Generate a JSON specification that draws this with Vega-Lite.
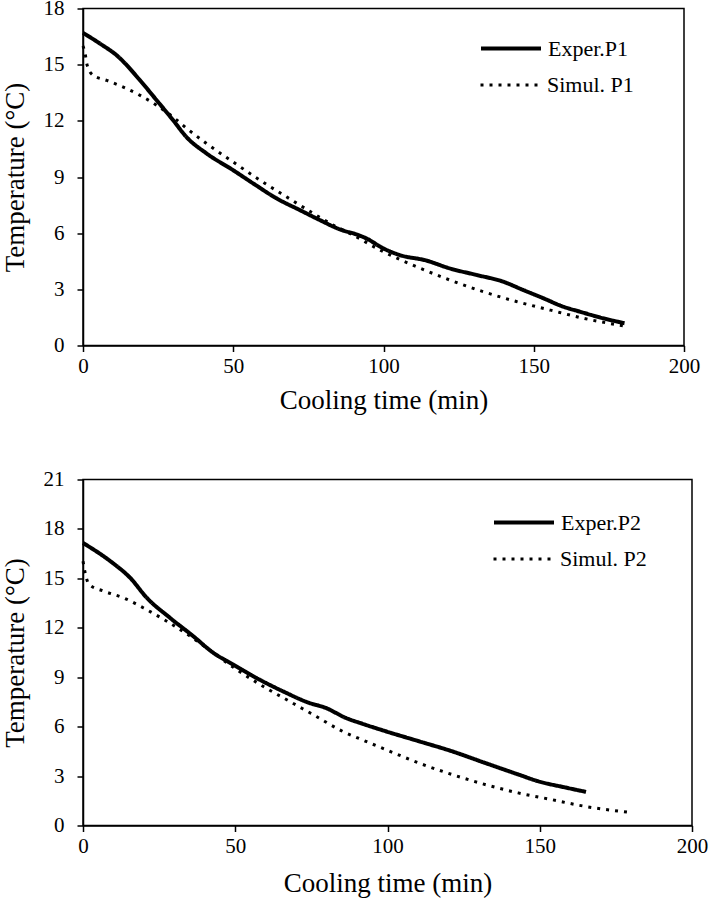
{
  "$schema": "https://vega.github.io/schema/vega-lite/v6.json",
  "padding": {"left": 0, "top": -3.5, "right": 0, "bottom": 0},
  "background": "white",
  "config": {
    "font": "Liberation Serif",
    "view": {"stroke": "black", "strokeWidth": 1.5},
    "axis": {
      "domainColor": "black", "domainWidth": 1.5, "tickColor": "black", "tickWidth": 1.5, "tickSize": 6,
      "labelFont": "Liberation Serif", "labelFontSize": 21, "labelColor": "black",
      "titleFont": "Liberation Serif", "titleFontSize": 27, "titleFontWeight": "normal", "titleColor": "black",
      "grid": false, "labelFlush": false
    },
    "legend": {
      "orient": "none", "title": null,
      "labelFont": "Liberation Serif", "labelFontSize": 22, "labelColor": "black",
      "symbolStrokeColor": "black",
      "symbolType": "stroke", "symbolSize": 3600, "rowPadding": 0, "labelOffset": 5
    }
  },
  "datasets": {
    "p1": [
      {"series": "Exper.P1", "t": 0, "T": 16.7},
      {"series": "Exper.P1", "t": 5.7, "T": 16.12},
      {"series": "Exper.P1", "t": 11.2, "T": 15.5},
      {"series": "Exper.P1", "t": 19, "T": 14.16},
      {"series": "Exper.P1", "t": 24.5, "T": 13.1},
      {"series": "Exper.P1", "t": 30, "T": 12.03},
      {"series": "Exper.P1", "t": 34.4, "T": 11.14},
      {"series": "Exper.P1", "t": 41.1, "T": 10.26},
      {"series": "Exper.P1", "t": 49.9, "T": 9.37},
      {"series": "Exper.P1", "t": 56.6, "T": 8.66},
      {"series": "Exper.P1", "t": 64.4, "T": 7.86},
      {"series": "Exper.P1", "t": 72.2, "T": 7.23},
      {"series": "Exper.P1", "t": 78.8, "T": 6.7},
      {"series": "Exper.P1", "t": 85.5, "T": 6.2},
      {"series": "Exper.P1", "t": 91.6, "T": 5.9},
      {"series": "Exper.P1", "t": 94.3, "T": 5.72},
      {"series": "Exper.P1", "t": 99.9, "T": 5.19},
      {"series": "Exper.P1", "t": 105.4, "T": 4.83},
      {"series": "Exper.P1", "t": 114, "T": 4.55},
      {"series": "Exper.P1", "t": 122, "T": 4.12},
      {"series": "Exper.P1", "t": 130.9, "T": 3.77},
      {"series": "Exper.P1", "t": 139.8, "T": 3.41},
      {"series": "Exper.P1", "t": 146.4, "T": 2.97},
      {"series": "Exper.P1", "t": 153.1, "T": 2.53},
      {"series": "Exper.P1", "t": 159.7, "T": 2.08},
      {"series": "Exper.P1", "t": 165.3, "T": 1.81},
      {"series": "Exper.P1", "t": 173, "T": 1.46},
      {"series": "Exper.P1", "t": 180.2, "T": 1.19},
      {"series": "Simul. P1", "t": 0, "T": 16.0},
      {"series": "Simul. P1", "t": 0.7, "T": 15.6},
      {"series": "Simul. P1", "t": 1.4, "T": 14.96},
      {"series": "Simul. P1", "t": 3.4, "T": 14.43},
      {"series": "Simul. P1", "t": 7.9, "T": 14.16},
      {"series": "Simul. P1", "t": 13.4, "T": 13.8},
      {"series": "Simul. P1", "t": 19, "T": 13.36},
      {"series": "Simul. P1", "t": 24.5, "T": 12.83},
      {"series": "Simul. P1", "t": 30, "T": 12.2},
      {"series": "Simul. P1", "t": 34.5, "T": 11.6},
      {"series": "Simul. P1", "t": 41.1, "T": 10.79},
      {"series": "Simul. P1", "t": 49.9, "T": 9.81},
      {"series": "Simul. P1", "t": 58.9, "T": 8.83},
      {"series": "Simul. P1", "t": 67.7, "T": 7.94},
      {"series": "Simul. P1", "t": 76.6, "T": 7.06},
      {"series": "Simul. P1", "t": 83.2, "T": 6.43},
      {"series": "Simul. P1", "t": 89.5, "T": 5.93},
      {"series": "Simul. P1", "t": 99.9, "T": 5.01},
      {"series": "Simul. P1", "t": 111, "T": 4.21},
      {"series": "Simul. P1", "t": 122, "T": 3.5},
      {"series": "Simul. P1", "t": 133.1, "T": 2.88},
      {"series": "Simul. P1", "t": 144.2, "T": 2.35},
      {"series": "Simul. P1", "t": 155.3, "T": 1.9},
      {"series": "Simul. P1", "t": 166.4, "T": 1.46},
      {"series": "Simul. P1", "t": 179.7, "T": 1.05}
    ],
    "p2": [
      {"series": "Exper.P2", "t": 0, "T": 17.15},
      {"series": "Exper.P2", "t": 9, "T": 16.04},
      {"series": "Exper.P2", "t": 15.5, "T": 15.03},
      {"series": "Exper.P2", "t": 21, "T": 13.81},
      {"series": "Exper.P2", "t": 28.6, "T": 12.6},
      {"series": "Exper.P2", "t": 36.2, "T": 11.49},
      {"series": "Exper.P2", "t": 42.8, "T": 10.48},
      {"series": "Exper.P2", "t": 49.3, "T": 9.77},
      {"series": "Exper.P2", "t": 56.9, "T": 8.96},
      {"series": "Exper.P2", "t": 65.6, "T": 8.15},
      {"series": "Exper.P2", "t": 74.3, "T": 7.44},
      {"series": "Exper.P2", "t": 79.7, "T": 7.14},
      {"series": "Exper.P2", "t": 86.3, "T": 6.53},
      {"series": "Exper.P2", "t": 91.7, "T": 6.18},
      {"series": "Exper.P2", "t": 99.4, "T": 5.72},
      {"series": "Exper.P2", "t": 110.2, "T": 5.12},
      {"series": "Exper.P2", "t": 121.1, "T": 4.51},
      {"series": "Exper.P2", "t": 132, "T": 3.8},
      {"series": "Exper.P2", "t": 142.9, "T": 3.1},
      {"series": "Exper.P2", "t": 149.4, "T": 2.69},
      {"series": "Exper.P2", "t": 158.1, "T": 2.32},
      {"series": "Exper.P2", "t": 165.2, "T": 2.04},
      {"series": "Simul. P2", "t": 0, "T": 16.04},
      {"series": "Simul. P2", "t": 0.6, "T": 15.43},
      {"series": "Simul. P2", "t": 2, "T": 14.63},
      {"series": "Simul. P2", "t": 6.9, "T": 14.22},
      {"series": "Simul. P2", "t": 13.4, "T": 13.81},
      {"series": "Simul. P2", "t": 19.9, "T": 13.2},
      {"series": "Simul. P2", "t": 27.5, "T": 12.4},
      {"series": "Simul. P2", "t": 35.2, "T": 11.49},
      {"series": "Simul. P2", "t": 42.8, "T": 10.48},
      {"series": "Simul. P2", "t": 50.4, "T": 9.47},
      {"series": "Simul. P2", "t": 59.1, "T": 8.45},
      {"series": "Simul. P2", "t": 67.8, "T": 7.54},
      {"series": "Simul. P2", "t": 76.5, "T": 6.63},
      {"series": "Simul. P2", "t": 85.2, "T": 5.72},
      {"series": "Simul. P2", "t": 91.7, "T": 5.2},
      {"series": "Simul. P2", "t": 99.4, "T": 4.61},
      {"series": "Simul. P2", "t": 110.2, "T": 3.8},
      {"series": "Simul. P2", "t": 121.1, "T": 3.1},
      {"series": "Simul. P2", "t": 132, "T": 2.49},
      {"series": "Simul. P2", "t": 142.9, "T": 1.98},
      {"series": "Simul. P2", "t": 153.7, "T": 1.58},
      {"series": "Simul. P2", "t": 164.6, "T": 1.17},
      {"series": "Simul. P2", "t": 178.8, "T": 0.81}
    ]
  },
  "align": "none",
  "spacing": 53,
  "resolve": {
    "scale": {"x": "independent", "y": "independent", "strokeDash": "independent"},
    "legend": {"strokeDash": "independent"}
  },
  "vconcat": [
    {
      "width": 601,
      "height": 337,
      "data": {"name": "p1"},
      "encoding": {
        "x": {"field": "t", "type": "quantitative", "scale": {"domain": [0, 200]},
              "axis": {"values": [0, 50, 100, 150, 200], "title": "Cooling time (min)", "labelPadding": 4, "titlePadding": 11}},
        "y": {"field": "T", "type": "quantitative", "scale": {"domain": [0, 18]},
              "axis": {"values": [0, 3, 6, 9, 12, 15, 18], "title": "Temperature (°C)", "labelPadding": 13, "titlePadding": 14}}
      },
      "layer": [
        {
          "transform": [{"filter": "datum.series === 'Exper.P1'"}],
          "mark": {"type": "line", "color": "black", "strokeCap": "butt", "interpolate": "monotone", "strokeWidth": 4},
          "encoding": {
            "strokeDash": {"field": "series", "type": "nominal",
                           "scale": {"domain": ["Exper.P1"], "range": [[1, 0]]},
                           "legend": {"legendX": 396, "legendY": 8, "symbolStrokeWidth": 4}}
          }
        },
        {
          "transform": [{"filter": "datum.series === 'Simul. P1'"}],
          "mark": {"type": "line", "color": "black", "strokeCap": "butt", "interpolate": "monotone", "strokeWidth": 3},
          "encoding": {
            "strokeDash": {"field": "series", "type": "nominal",
                           "scale": {"domain": ["Simul. P1"], "range": [[3, 6]]},
                           "legend": {"legendX": 396, "legendY": 45, "symbolStrokeWidth": 3}}
          }
        }
      ],
      "resolve": {"scale": {"strokeDash": "independent"}, "legend": {"strokeDash": "independent"}}
    },
    {
      "width": 609,
      "height": 346,
      "data": {"name": "p2"},
      "encoding": {
        "x": {"field": "t", "type": "quantitative", "scale": {"domain": [0, 200]},
              "axis": {"values": [0, 50, 100, 150, 200], "title": "Cooling time (min)", "labelPadding": 4, "titlePadding": 14}},
        "y": {"field": "T", "type": "quantitative", "scale": {"domain": [0, 21]},
              "axis": {"values": [0, 3, 6, 9, 12, 15, 18, 21], "title": "Temperature (°C)", "labelPadding": 13, "titlePadding": 14}}
      },
      "layer": [
        {
          "transform": [{"filter": "datum.series === 'Exper.P2'"}],
          "mark": {"type": "line", "color": "black", "strokeCap": "butt", "interpolate": "monotone", "strokeWidth": 4},
          "encoding": {
            "strokeDash": {"field": "series", "type": "nominal",
                           "scale": {"domain": ["Exper.P2"], "range": [[1, 0]]},
                           "legend": {"legendX": 409, "legendY": 11, "symbolStrokeWidth": 4}}
          }
        },
        {
          "transform": [{"filter": "datum.series === 'Simul. P2'"}],
          "mark": {"type": "line", "color": "black", "strokeCap": "butt", "interpolate": "monotone", "strokeWidth": 3},
          "encoding": {
            "strokeDash": {"field": "series", "type": "nominal",
                           "scale": {"domain": ["Simul. P2"], "range": [[3, 6]]},
                           "legend": {"legendX": 409, "legendY": 48, "symbolStrokeWidth": 3}}
          }
        }
      ],
      "resolve": {"scale": {"strokeDash": "independent"}, "legend": {"strokeDash": "independent"}}
    }
  ]
}
